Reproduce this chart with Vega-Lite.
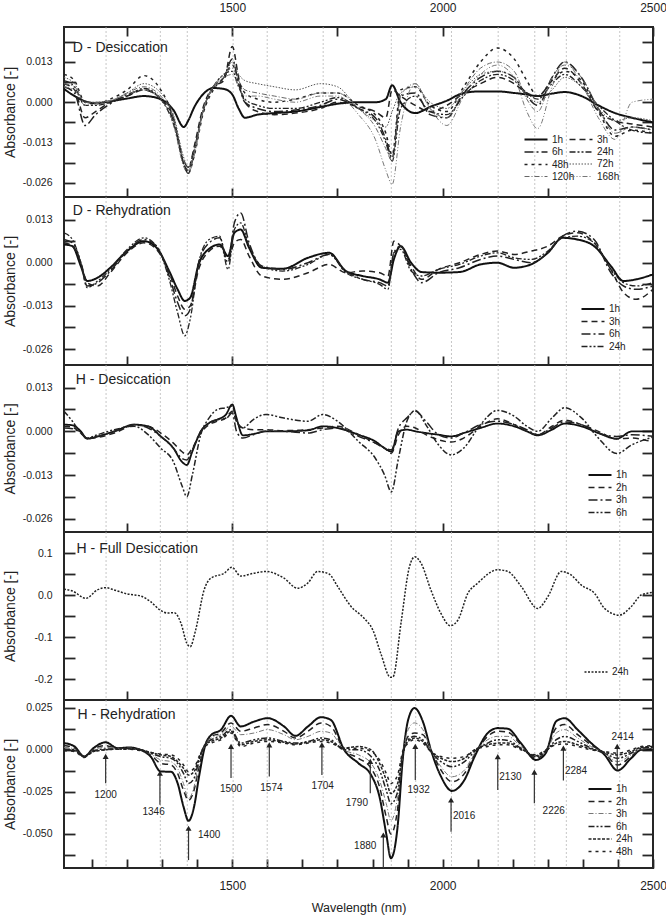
{
"$schema":"https://vega.github.io/schema/vega-lite/v6.json",
"background":"white",
"padding":{"left":2,"top":0,"right":0,"bottom":0},
"bounds":"flush",
"spacing":0,
"config":{
 "font":"Liberation Sans",
 "view":{"stroke":"#262626","strokeWidth":2},
 "axis":{"domain":false,"grid":false,"tickColor":"#262626","tickWidth":1.8,"labelColor":"#222","titleColor":"#222","labelFont":"Liberation Sans","titleFont":"Liberation Sans","titleFontWeight":"normal","labelFlush":false,"labelOverlap":false},
 "axisY":{"tickSize":-11,"labelPadding":23,"labelFontSize":10.5,"titleFontSize":14},
 "axisX":{"tickSize":-9,"labelPadding":21.5,"labelFontSize":12,"titleFontSize":12.5},
 "legend":{"labelFont":"Liberation Sans","labelFontSize":10,"labelColor":"#222","rowPadding":1.5,"columnPadding":2,"labelOffset":10,"padding":0},
 "line":{"interpolate":"monotone","clip":true}
},
"datasets":{
 "grid":[{"x":1200},{"x":1329},{"x":1393},{"x":1502},{"x":1583},{"x":1716},{"x":1878},{"x":1936},{"x":2021},{"x":2132},{"x":2219},{"x":2294},{"x":2421}],
 "p1":[
{"s":"1h","x":1100,"y":0.0043},{"s":"1h","x":1125,"y":0.002},{"s":"1h","x":1150,"y":0.0003},{"s":"1h","x":1175,"y":-0.0003},{"s":"1h","x":1210,"y":0.0003},{"s":"1h","x":1250,"y":0.0012},{"s":"1h","x":1290,"y":0.002},{"s":"1h","x":1330,"y":0.001},{"s":"1h","x":1360,"y":-0.0025},{"s":"1h","x":1385,"y":-0.008},{"s":"1h","x":1395,"y":-0.006},{"s":"1h","x":1410,"y":-0.0015},{"s":"1h","x":1430,"y":0.0025},{"s":"1h","x":1455,"y":0.0046},{"s":"1h","x":1480,"y":0.0043},{"s":"1h","x":1500,"y":0.0025},{"s":"1h","x":1515,"y":-0.002},{"s":"1h","x":1530,"y":-0.005},{"s":"1h","x":1560,"y":-0.004},{"s":"1h","x":1600,"y":-0.0035},{"s":"1h","x":1650,"y":-0.003},{"s":"1h","x":1710,"y":-0.0015},{"s":"1h","x":1750,"y":-0.0005},{"s":"1h","x":1800,"y":0},{"s":"1h","x":1840,"y":0},{"s":"1h","x":1865,"y":0.001},{"s":"1h","x":1880,"y":0.0055},{"s":"1h","x":1900,"y":0},{"s":"1h","x":1935,"y":-0.0035},{"s":"1h","x":1970,"y":-0.0015},{"s":"1h","x":2010,"y":0.0005},{"s":"1h","x":2050,"y":0.003},{"s":"1h","x":2090,"y":0.0035},{"s":"1h","x":2130,"y":0.0035},{"s":"1h","x":2170,"y":0.003},{"s":"1h","x":2200,"y":0.0025},{"s":"1h","x":2226,"y":0.002},{"s":"1h","x":2260,"y":0.0028},{"s":"1h","x":2290,"y":0.0033},{"s":"1h","x":2330,"y":0.002},{"s":"1h","x":2370,"y":-0.001},{"s":"1h","x":2410,"y":-0.0035},{"s":"1h","x":2450,"y":-0.005},{"s":"1h","x":2500,"y":-0.0065},
{"s":"3h","x":1100,"y":0.006},{"s":"3h","x":1125,"y":0.004},{"s":"3h","x":1150,"y":-0.005},{"s":"3h","x":1175,"y":-0.003},{"s":"3h","x":1210,"y":0},{"s":"3h","x":1250,"y":0.002},{"s":"3h","x":1290,"y":0.004},{"s":"3h","x":1330,"y":0.001},{"s":"3h","x":1360,"y":-0.005},{"s":"3h","x":1385,"y":-0.02},{"s":"3h","x":1395,"y":-0.022},{"s":"3h","x":1410,"y":-0.014},{"s":"3h","x":1430,"y":-0.002},{"s":"3h","x":1455,"y":0.005},{"s":"3h","x":1480,"y":0.007},{"s":"3h","x":1500,"y":0.018},{"s":"3h","x":1515,"y":0.008},{"s":"3h","x":1530,"y":0},{"s":"3h","x":1560,"y":-0.003},{"s":"3h","x":1600,"y":-0.004},{"s":"3h","x":1650,"y":-0.0035},{"s":"3h","x":1710,"y":-0.002},{"s":"3h","x":1750,"y":0},{"s":"3h","x":1800,"y":-0.0015},{"s":"3h","x":1840,"y":-0.003},{"s":"3h","x":1865,"y":-0.005},{"s":"3h","x":1880,"y":0.004},{"s":"3h","x":1900,"y":0.002},{"s":"3h","x":1935,"y":-0.001},{"s":"3h","x":1970,"y":-0.003},{"s":"3h","x":2010,"y":-0.001},{"s":"3h","x":2050,"y":0.003},{"s":"3h","x":2090,"y":0.006},{"s":"3h","x":2130,"y":0.008},{"s":"3h","x":2170,"y":0.006},{"s":"3h","x":2200,"y":0.003},{"s":"3h","x":2226,"y":0.002},{"s":"3h","x":2260,"y":0.007},{"s":"3h","x":2290,"y":0.011},{"s":"3h","x":2330,"y":0.006},{"s":"3h","x":2370,"y":-0.003},{"s":"3h","x":2410,"y":-0.006},{"s":"3h","x":2450,"y":-0.007},{"s":"3h","x":2500,"y":-0.008},
{"s":"6h","x":1100,"y":0.005},{"s":"6h","x":1125,"y":0.003},{"s":"6h","x":1150,"y":-0.0075},{"s":"6h","x":1175,"y":-0.004},{"s":"6h","x":1210,"y":-0.0005},{"s":"6h","x":1250,"y":0.0025},{"s":"6h","x":1290,"y":0.004},{"s":"6h","x":1330,"y":0.001},{"s":"6h","x":1360,"y":-0.006},{"s":"6h","x":1385,"y":-0.019},{"s":"6h","x":1395,"y":-0.021},{"s":"6h","x":1410,"y":-0.015},{"s":"6h","x":1430,"y":-0.003},{"s":"6h","x":1455,"y":0.005},{"s":"6h","x":1480,"y":0.008},{"s":"6h","x":1500,"y":0.014},{"s":"6h","x":1515,"y":0.006},{"s":"6h","x":1530,"y":0},{"s":"6h","x":1560,"y":-0.002},{"s":"6h","x":1600,"y":-0.003},{"s":"6h","x":1650,"y":-0.0025},{"s":"6h","x":1710,"y":-0.001},{"s":"6h","x":1750,"y":0.001},{"s":"6h","x":1800,"y":-0.002},{"s":"6h","x":1840,"y":-0.005},{"s":"6h","x":1865,"y":-0.012},{"s":"6h","x":1880,"y":-0.018},{"s":"6h","x":1900,"y":0.002},{"s":"6h","x":1935,"y":0.003},{"s":"6h","x":1970,"y":-0.004},{"s":"6h","x":2010,"y":-0.005},{"s":"6h","x":2050,"y":0.003},{"s":"6h","x":2090,"y":0.008},{"s":"6h","x":2130,"y":0.01},{"s":"6h","x":2170,"y":0.008},{"s":"6h","x":2200,"y":0.002},{"s":"6h","x":2226,"y":-0.001},{"s":"6h","x":2260,"y":0.008},{"s":"6h","x":2290,"y":0.013},{"s":"6h","x":2330,"y":0.008},{"s":"6h","x":2370,"y":-0.002},{"s":"6h","x":2410,"y":-0.009},{"s":"6h","x":2450,"y":-0.008},{"s":"6h","x":2500,"y":-0.009},
{"s":"24h","x":1100,"y":0.007},{"s":"24h","x":1125,"y":0.005},{"s":"24h","x":1150,"y":-0.001},{"s":"24h","x":1175,"y":-0.001},{"s":"24h","x":1210,"y":0},{"s":"24h","x":1250,"y":0.002},{"s":"24h","x":1290,"y":0.0045},{"s":"24h","x":1330,"y":0.001},{"s":"24h","x":1360,"y":-0.007},{"s":"24h","x":1385,"y":-0.02},{"s":"24h","x":1395,"y":-0.023},{"s":"24h","x":1410,"y":-0.016},{"s":"24h","x":1430,"y":-0.003},{"s":"24h","x":1455,"y":0.005},{"s":"24h","x":1480,"y":0.009},{"s":"24h","x":1500,"y":0.01},{"s":"24h","x":1515,"y":0.005},{"s":"24h","x":1530,"y":0.001},{"s":"24h","x":1560,"y":-0.001},{"s":"24h","x":1600,"y":-0.002},{"s":"24h","x":1650,"y":-0.002},{"s":"24h","x":1710,"y":0},{"s":"24h","x":1750,"y":0.0015},{"s":"24h","x":1800,"y":-0.002},{"s":"24h","x":1840,"y":-0.006},{"s":"24h","x":1865,"y":-0.013},{"s":"24h","x":1880,"y":-0.019},{"s":"24h","x":1900,"y":-0.002},{"s":"24h","x":1935,"y":0.002},{"s":"24h","x":1970,"y":-0.003},{"s":"24h","x":2010,"y":-0.004},{"s":"24h","x":2050,"y":0.002},{"s":"24h","x":2090,"y":0.007},{"s":"24h","x":2130,"y":0.009},{"s":"24h","x":2170,"y":0.007},{"s":"24h","x":2200,"y":0.003},{"s":"24h","x":2226,"y":0.001},{"s":"24h","x":2260,"y":0.006},{"s":"24h","x":2290,"y":0.009},{"s":"24h","x":2330,"y":0.005},{"s":"24h","x":2370,"y":-0.001},{"s":"24h","x":2410,"y":-0.006},{"s":"24h","x":2450,"y":-0.009},{"s":"24h","x":2500,"y":-0.01},
{"s":"48h","x":1100,"y":0.009},{"s":"48h","x":1125,"y":0.007},{"s":"48h","x":1150,"y":0},{"s":"48h","x":1175,"y":-0.0005},{"s":"48h","x":1210,"y":0.001},{"s":"48h","x":1250,"y":0.004},{"s":"48h","x":1290,"y":0.0086},{"s":"48h","x":1330,"y":0.004},{"s":"48h","x":1360,"y":-0.005},{"s":"48h","x":1385,"y":-0.02},{"s":"48h","x":1395,"y":-0.023},{"s":"48h","x":1410,"y":-0.017},{"s":"48h","x":1430,"y":-0.004},{"s":"48h","x":1455,"y":0.004},{"s":"48h","x":1480,"y":0.008},{"s":"48h","x":1500,"y":0.012},{"s":"48h","x":1515,"y":0.007},{"s":"48h","x":1530,"y":0.003},{"s":"48h","x":1560,"y":0.001},{"s":"48h","x":1600,"y":0},{"s":"48h","x":1650,"y":0.001},{"s":"48h","x":1710,"y":0.003},{"s":"48h","x":1750,"y":0.003},{"s":"48h","x":1800,"y":-0.001},{"s":"48h","x":1840,"y":-0.004},{"s":"48h","x":1865,"y":-0.01},{"s":"48h","x":1880,"y":-0.017},{"s":"48h","x":1900,"y":0.004},{"s":"48h","x":1935,"y":0.005},{"s":"48h","x":1970,"y":-0.001},{"s":"48h","x":2010,"y":-0.003},{"s":"48h","x":2050,"y":0.005},{"s":"48h","x":2090,"y":0.013},{"s":"48h","x":2130,"y":0.0175},{"s":"48h","x":2170,"y":0.014},{"s":"48h","x":2200,"y":0.007},{"s":"48h","x":2226,"y":0.002},{"s":"48h","x":2260,"y":0.007},{"s":"48h","x":2290,"y":0.01},{"s":"48h","x":2330,"y":0.007},{"s":"48h","x":2370,"y":-0.003},{"s":"48h","x":2410,"y":-0.011},{"s":"48h","x":2450,"y":-0.009},{"s":"48h","x":2500,"y":-0.01},
{"s":"72h","x":1100,"y":0.008},{"s":"72h","x":1125,"y":0.006},{"s":"72h","x":1150,"y":0},{"s":"72h","x":1175,"y":0},{"s":"72h","x":1210,"y":0.0005},{"s":"72h","x":1250,"y":0.003},{"s":"72h","x":1290,"y":0.006},{"s":"72h","x":1330,"y":0.003},{"s":"72h","x":1360,"y":-0.004},{"s":"72h","x":1385,"y":-0.018},{"s":"72h","x":1395,"y":-0.021},{"s":"72h","x":1410,"y":-0.015},{"s":"72h","x":1430,"y":-0.003},{"s":"72h","x":1455,"y":0.005},{"s":"72h","x":1480,"y":0.008},{"s":"72h","x":1500,"y":0.013},{"s":"72h","x":1515,"y":0.009},{"s":"72h","x":1530,"y":0.007},{"s":"72h","x":1560,"y":0.006},{"s":"72h","x":1600,"y":0.005},{"s":"72h","x":1650,"y":0.004},{"s":"72h","x":1710,"y":0.006},{"s":"72h","x":1750,"y":0.005},{"s":"72h","x":1800,"y":-0.002},{"s":"72h","x":1840,"y":-0.006},{"s":"72h","x":1865,"y":-0.008},{"s":"72h","x":1880,"y":-0.003},{"s":"72h","x":1900,"y":0.003},{"s":"72h","x":1935,"y":0.005},{"s":"72h","x":1970,"y":0},{"s":"72h","x":2010,"y":-0.002},{"s":"72h","x":2050,"y":0.004},{"s":"72h","x":2090,"y":0.009},{"s":"72h","x":2130,"y":0.01},{"s":"72h","x":2170,"y":0.008},{"s":"72h","x":2200,"y":0.002},{"s":"72h","x":2226,"y":0},{"s":"72h","x":2260,"y":0.004},{"s":"72h","x":2290,"y":0.008},{"s":"72h","x":2330,"y":0.005},{"s":"72h","x":2370,"y":-0.002},{"s":"72h","x":2410,"y":-0.006},{"s":"72h","x":2450,"y":-0.005},{"s":"72h","x":2500,"y":-0.006},
{"s":"120h","x":1100,"y":0.006},{"s":"120h","x":1125,"y":0.005},{"s":"120h","x":1150,"y":0},{"s":"120h","x":1175,"y":0},{"s":"120h","x":1210,"y":0.0005},{"s":"120h","x":1250,"y":0.003},{"s":"120h","x":1290,"y":0.005},{"s":"120h","x":1330,"y":0.002},{"s":"120h","x":1360,"y":-0.005},{"s":"120h","x":1385,"y":-0.019},{"s":"120h","x":1395,"y":-0.022},{"s":"120h","x":1410,"y":-0.016},{"s":"120h","x":1430,"y":-0.003},{"s":"120h","x":1455,"y":0.005},{"s":"120h","x":1480,"y":0.009},{"s":"120h","x":1500,"y":0.011},{"s":"120h","x":1515,"y":0.007},{"s":"120h","x":1530,"y":0.004},{"s":"120h","x":1560,"y":0.003},{"s":"120h","x":1600,"y":0.002},{"s":"120h","x":1650,"y":0.001},{"s":"120h","x":1710,"y":0.003},{"s":"120h","x":1750,"y":0.003},{"s":"120h","x":1800,"y":-0.002},{"s":"120h","x":1840,"y":-0.008},{"s":"120h","x":1865,"y":-0.015},{"s":"120h","x":1880,"y":-0.019},{"s":"120h","x":1900,"y":0.002},{"s":"120h","x":1935,"y":0.006},{"s":"120h","x":1970,"y":-0.002},{"s":"120h","x":2010,"y":-0.005},{"s":"120h","x":2050,"y":0.004},{"s":"120h","x":2090,"y":0.011},{"s":"120h","x":2130,"y":0.013},{"s":"120h","x":2170,"y":0.01},{"s":"120h","x":2200,"y":0.001},{"s":"120h","x":2226,"y":-0.003},{"s":"120h","x":2260,"y":0.008},{"s":"120h","x":2290,"y":0.012},{"s":"120h","x":2330,"y":0.008},{"s":"120h","x":2370,"y":-0.002},{"s":"120h","x":2410,"y":-0.01},{"s":"120h","x":2450,"y":-0.008},{"s":"120h","x":2500,"y":-0.009},
{"s":"168h","x":1100,"y":0.005},{"s":"168h","x":1125,"y":0.004},{"s":"168h","x":1150,"y":-0.001},{"s":"168h","x":1175,"y":-0.0005},{"s":"168h","x":1210,"y":0.0005},{"s":"168h","x":1250,"y":0.0025},{"s":"168h","x":1290,"y":0.004},{"s":"168h","x":1330,"y":0.001},{"s":"168h","x":1360,"y":-0.007},{"s":"168h","x":1385,"y":-0.021},{"s":"168h","x":1395,"y":-0.023},{"s":"168h","x":1410,"y":-0.017},{"s":"168h","x":1430,"y":-0.003},{"s":"168h","x":1455,"y":0.005},{"s":"168h","x":1480,"y":0.008},{"s":"168h","x":1500,"y":0.009},{"s":"168h","x":1515,"y":0.005},{"s":"168h","x":1530,"y":0.002},{"s":"168h","x":1560,"y":0.002},{"s":"168h","x":1600,"y":0.001},{"s":"168h","x":1650,"y":0},{"s":"168h","x":1710,"y":0.002},{"s":"168h","x":1750,"y":0.002},{"s":"168h","x":1800,"y":-0.004},{"s":"168h","x":1840,"y":-0.012},{"s":"168h","x":1865,"y":-0.022},{"s":"168h","x":1880,"y":-0.0265},{"s":"168h","x":1900,"y":-0.008},{"s":"168h","x":1935,"y":0.006},{"s":"168h","x":1970,"y":-0.002},{"s":"168h","x":2010,"y":-0.0075},{"s":"168h","x":2050,"y":0.002},{"s":"168h","x":2090,"y":0.009},{"s":"168h","x":2130,"y":0.012},{"s":"168h","x":2170,"y":0.008},{"s":"168h","x":2200,"y":-0.003},{"s":"168h","x":2226,"y":-0.0085},{"s":"168h","x":2260,"y":0.005},{"s":"168h","x":2290,"y":0.013},{"s":"168h","x":2330,"y":0.006},{"s":"168h","x":2370,"y":-0.005},{"s":"168h","x":2410,"y":-0.012},{"s":"168h","x":2450,"y":0},{"s":"168h","x":2500,"y":0.001}
 ],
 "p2":[
{"s":"1h","x":1100,"y":0.0055},{"s":"1h","x":1120,"y":0.005},{"s":"1h","x":1140,"y":-0.001},{"s":"1h","x":1155,"y":-0.0055},{"s":"1h","x":1180,"y":-0.0045},{"s":"1h","x":1210,"y":-0.0015},{"s":"1h","x":1250,"y":0.0035},{"s":"1h","x":1290,"y":0.0065},{"s":"1h","x":1320,"y":0.0045},{"s":"1h","x":1350,"y":-0.0025},{"s":"1h","x":1370,"y":-0.008},{"s":"1h","x":1387,"y":-0.0115},{"s":"1h","x":1400,"y":-0.0105},{"s":"1h","x":1420,"y":-0.0005},{"s":"1h","x":1445,"y":0.0042},{"s":"1h","x":1470,"y":0.0055},{"s":"1h","x":1490,"y":0.002},{"s":"1h","x":1505,"y":0.009},{"s":"1h","x":1520,"y":0.01},{"s":"1h","x":1540,"y":0.0045},{"s":"1h","x":1570,"y":-0.0015},{"s":"1h","x":1620,"y":-0.0018},{"s":"1h","x":1680,"y":0.0015},{"s":"1h","x":1730,"y":0.003},{"s":"1h","x":1770,"y":-0.0025},{"s":"1h","x":1810,"y":-0.004},{"s":"1h","x":1850,"y":-0.005},{"s":"1h","x":1870,"y":-0.006},{"s":"1h","x":1884,"y":0.001},{"s":"1h","x":1900,"y":0.005},{"s":"1h","x":1925,"y":0},{"s":"1h","x":1950,"y":-0.0028},{"s":"1h","x":1990,"y":-0.003},{"s":"1h","x":2040,"y":-0.0028},{"s":"1h","x":2090,"y":-0.0005},{"s":"1h","x":2130,"y":0},{"s":"1h","x":2170,"y":-0.0015},{"s":"1h","x":2210,"y":-0.0005},{"s":"1h","x":2250,"y":0.003},{"s":"1h","x":2285,"y":0.0075},{"s":"1h","x":2320,"y":0.007},{"s":"1h","x":2360,"y":0.005},{"s":"1h","x":2400,"y":-0.001},{"s":"1h","x":2430,"y":-0.0055},{"s":"1h","x":2460,"y":-0.005},{"s":"1h","x":2500,"y":-0.0035},
{"s":"3h","x":1100,"y":0.006},{"s":"3h","x":1120,"y":0.005},{"s":"3h","x":1140,"y":0},{"s":"3h","x":1155,"y":-0.006},{"s":"3h","x":1180,"y":-0.007},{"s":"3h","x":1210,"y":-0.003},{"s":"3h","x":1250,"y":0.003},{"s":"3h","x":1290,"y":0.006},{"s":"3h","x":1320,"y":0.004},{"s":"3h","x":1350,"y":-0.003},{"s":"3h","x":1370,"y":-0.01},{"s":"3h","x":1387,"y":-0.014},{"s":"3h","x":1400,"y":-0.013},{"s":"3h","x":1420,"y":-0.002},{"s":"3h","x":1445,"y":0.0035},{"s":"3h","x":1470,"y":0.005},{"s":"3h","x":1490,"y":0.001},{"s":"3h","x":1505,"y":0.006},{"s":"3h","x":1520,"y":0.007},{"s":"3h","x":1540,"y":0.002},{"s":"3h","x":1570,"y":-0.004},{"s":"3h","x":1620,"y":-0.005},{"s":"3h","x":1680,"y":-0.003},{"s":"3h","x":1730,"y":-0.0005},{"s":"3h","x":1770,"y":-0.003},{"s":"3h","x":1810,"y":-0.0025},{"s":"3h","x":1850,"y":-0.003},{"s":"3h","x":1870,"y":-0.004},{"s":"3h","x":1884,"y":0.0065},{"s":"3h","x":1900,"y":0.005},{"s":"3h","x":1925,"y":-0.001},{"s":"3h","x":1950,"y":-0.005},{"s":"3h","x":1990,"y":-0.002},{"s":"3h","x":2040,"y":0},{"s":"3h","x":2090,"y":0.0025},{"s":"3h","x":2130,"y":0.0035},{"s":"3h","x":2170,"y":0.0025},{"s":"3h","x":2210,"y":0.0035},{"s":"3h","x":2250,"y":0.005},{"s":"3h","x":2285,"y":0.008},{"s":"3h","x":2320,"y":0.009},{"s":"3h","x":2360,"y":0.006},{"s":"3h","x":2400,"y":-0.002},{"s":"3h","x":2430,"y":-0.009},{"s":"3h","x":2460,"y":-0.011},{"s":"3h","x":2500,"y":-0.008},
{"s":"6h","x":1100,"y":0.007},{"s":"6h","x":1120,"y":0.006},{"s":"6h","x":1140,"y":0},{"s":"6h","x":1155,"y":-0.007},{"s":"6h","x":1180,"y":-0.006},{"s":"6h","x":1210,"y":-0.0025},{"s":"6h","x":1250,"y":0.0035},{"s":"6h","x":1290,"y":0.007},{"s":"6h","x":1320,"y":0.005},{"s":"6h","x":1350,"y":-0.004},{"s":"6h","x":1370,"y":-0.012},{"s":"6h","x":1387,"y":-0.016},{"s":"6h","x":1400,"y":-0.014},{"s":"6h","x":1420,"y":0},{"s":"6h","x":1445,"y":0.006},{"s":"6h","x":1470,"y":0.0075},{"s":"6h","x":1490,"y":0},{"s":"6h","x":1505,"y":0.012},{"s":"6h","x":1520,"y":0.015},{"s":"6h","x":1540,"y":0.006},{"s":"6h","x":1570,"y":-0.001},{"s":"6h","x":1620,"y":-0.002},{"s":"6h","x":1680,"y":0},{"s":"6h","x":1730,"y":0.0025},{"s":"6h","x":1770,"y":-0.0025},{"s":"6h","x":1810,"y":-0.005},{"s":"6h","x":1850,"y":-0.006},{"s":"6h","x":1870,"y":-0.007},{"s":"6h","x":1884,"y":0.003},{"s":"6h","x":1900,"y":0.005},{"s":"6h","x":1925,"y":-0.002},{"s":"6h","x":1950,"y":-0.006},{"s":"6h","x":1990,"y":-0.003},{"s":"6h","x":2040,"y":-0.0015},{"s":"6h","x":2090,"y":0.001},{"s":"6h","x":2130,"y":0.002},{"s":"6h","x":2170,"y":0.001},{"s":"6h","x":2210,"y":0},{"s":"6h","x":2250,"y":0.003},{"s":"6h","x":2285,"y":0.008},{"s":"6h","x":2320,"y":0.0095},{"s":"6h","x":2360,"y":0.007},{"s":"6h","x":2400,"y":-0.003},{"s":"6h","x":2430,"y":-0.007},{"s":"6h","x":2460,"y":-0.008},{"s":"6h","x":2500,"y":-0.007},
{"s":"24h","x":1100,"y":0.009},{"s":"24h","x":1120,"y":0.007},{"s":"24h","x":1140,"y":0},{"s":"24h","x":1155,"y":-0.0075},{"s":"24h","x":1180,"y":-0.0055},{"s":"24h","x":1210,"y":-0.002},{"s":"24h","x":1250,"y":0.004},{"s":"24h","x":1290,"y":0.0075},{"s":"24h","x":1320,"y":0.005},{"s":"24h","x":1350,"y":-0.005},{"s":"24h","x":1370,"y":-0.015},{"s":"24h","x":1387,"y":-0.022},{"s":"24h","x":1400,"y":-0.017},{"s":"24h","x":1420,"y":0},{"s":"24h","x":1445,"y":0.007},{"s":"24h","x":1470,"y":0.008},{"s":"24h","x":1490,"y":-0.002},{"s":"24h","x":1505,"y":0.01},{"s":"24h","x":1520,"y":0.012},{"s":"24h","x":1540,"y":0.005},{"s":"24h","x":1570,"y":-0.001},{"s":"24h","x":1620,"y":-0.0025},{"s":"24h","x":1680,"y":-0.0005},{"s":"24h","x":1730,"y":0.0025},{"s":"24h","x":1770,"y":-0.003},{"s":"24h","x":1810,"y":-0.005},{"s":"24h","x":1850,"y":-0.0065},{"s":"24h","x":1870,"y":-0.008},{"s":"24h","x":1884,"y":0.003},{"s":"24h","x":1900,"y":0.004},{"s":"24h","x":1925,"y":-0.0025},{"s":"24h","x":1950,"y":-0.004},{"s":"24h","x":1990,"y":-0.002},{"s":"24h","x":2040,"y":-0.0005},{"s":"24h","x":2090,"y":0.002},{"s":"24h","x":2130,"y":0.003},{"s":"24h","x":2170,"y":0.0015},{"s":"24h","x":2210,"y":0.001},{"s":"24h","x":2250,"y":0.0035},{"s":"24h","x":2285,"y":0.0075},{"s":"24h","x":2320,"y":0.008},{"s":"24h","x":2360,"y":0.006},{"s":"24h","x":2400,"y":-0.002},{"s":"24h","x":2430,"y":-0.006},{"s":"24h","x":2460,"y":-0.007},{"s":"24h","x":2500,"y":-0.006}
 ],
 "p3":[
{"s":"1h","x":1100,"y":0.002},{"s":"1h","x":1120,"y":0.0018},{"s":"1h","x":1140,"y":0},{"s":"1h","x":1155,"y":-0.0022},{"s":"1h","x":1180,"y":-0.0015},{"s":"1h","x":1220,"y":0},{"s":"1h","x":1267,"y":0.002},{"s":"1h","x":1300,"y":0.0015},{"s":"1h","x":1330,"y":-0.0015},{"s":"1h","x":1360,"y":-0.005},{"s":"1h","x":1380,"y":-0.009},{"s":"1h","x":1392,"y":-0.01},{"s":"1h","x":1405,"y":-0.006},{"s":"1h","x":1425,"y":0},{"s":"1h","x":1445,"y":0.0025},{"s":"1h","x":1465,"y":0.0035},{"s":"1h","x":1485,"y":0.005},{"s":"1h","x":1500,"y":0.008},{"s":"1h","x":1510,"y":0.004},{"s":"1h","x":1525,"y":-0.0012},{"s":"1h","x":1550,"y":-0.0008},{"s":"1h","x":1580,"y":0},{"s":"1h","x":1620,"y":0},{"s":"1h","x":1680,"y":0.0003},{"s":"1h","x":1715,"y":0.0015},{"s":"1h","x":1750,"y":0.001},{"s":"1h","x":1800,"y":-0.001},{"s":"1h","x":1840,"y":-0.003},{"s":"1h","x":1862,"y":-0.005},{"s":"1h","x":1878,"y":-0.006},{"s":"1h","x":1895,"y":0},{"s":"1h","x":1915,"y":0.0005},{"s":"1h","x":1935,"y":0},{"s":"1h","x":1960,"y":-0.0005},{"s":"1h","x":1990,"y":-0.001},{"s":"1h","x":2020,"y":-0.0015},{"s":"1h","x":2050,"y":-0.0005},{"s":"1h","x":2090,"y":0.001},{"s":"1h","x":2130,"y":0.0023},{"s":"1h","x":2170,"y":0.0015},{"s":"1h","x":2200,"y":0},{"s":"1h","x":2226,"y":-0.0012},{"s":"1h","x":2260,"y":0.0005},{"s":"1h","x":2290,"y":0.0023},{"s":"1h","x":2330,"y":0.0015},{"s":"1h","x":2370,"y":-0.0005},{"s":"1h","x":2414,"y":-0.0022},{"s":"1h","x":2450,"y":0},{"s":"1h","x":2500,"y":0},
{"s":"2h","x":1100,"y":0.0015},{"s":"2h","x":1120,"y":0.0012},{"s":"2h","x":1140,"y":-0.0005},{"s":"2h","x":1155,"y":-0.0022},{"s":"2h","x":1180,"y":-0.0018},{"s":"2h","x":1220,"y":-0.0005},{"s":"2h","x":1267,"y":0.0018},{"s":"2h","x":1300,"y":0.0015},{"s":"2h","x":1330,"y":-0.0005},{"s":"2h","x":1360,"y":-0.0035},{"s":"2h","x":1380,"y":-0.006},{"s":"2h","x":1392,"y":-0.007},{"s":"2h","x":1405,"y":-0.005},{"s":"2h","x":1425,"y":-0.0005},{"s":"2h","x":1445,"y":0.002},{"s":"2h","x":1465,"y":0.003},{"s":"2h","x":1485,"y":0.004},{"s":"2h","x":1500,"y":0.006},{"s":"2h","x":1510,"y":0.003},{"s":"2h","x":1525,"y":0.001},{"s":"2h","x":1550,"y":0.0005},{"s":"2h","x":1580,"y":0.0005},{"s":"2h","x":1620,"y":0.0002},{"s":"2h","x":1680,"y":0.0005},{"s":"2h","x":1715,"y":0.001},{"s":"2h","x":1750,"y":0.0015},{"s":"2h","x":1800,"y":-0.001},{"s":"2h","x":1840,"y":-0.0035},{"s":"2h","x":1862,"y":-0.005},{"s":"2h","x":1878,"y":-0.0065},{"s":"2h","x":1895,"y":-0.001},{"s":"2h","x":1915,"y":0.0015},{"s":"2h","x":1935,"y":0.001},{"s":"2h","x":1960,"y":-0.001},{"s":"2h","x":1990,"y":-0.0025},{"s":"2h","x":2020,"y":-0.0032},{"s":"2h","x":2050,"y":-0.002},{"s":"2h","x":2090,"y":0.0015},{"s":"2h","x":2130,"y":0.0037},{"s":"2h","x":2170,"y":0.002},{"s":"2h","x":2200,"y":0},{"s":"2h","x":2226,"y":-0.001},{"s":"2h","x":2260,"y":0.0015},{"s":"2h","x":2290,"y":0.0033},{"s":"2h","x":2330,"y":0.002},{"s":"2h","x":2370,"y":0},{"s":"2h","x":2414,"y":-0.0022},{"s":"2h","x":2450,"y":-0.002},{"s":"2h","x":2500,"y":-0.0032},
{"s":"3h","x":1100,"y":0.001},{"s":"3h","x":1120,"y":0.0008},{"s":"3h","x":1140,"y":-0.0005},{"s":"3h","x":1155,"y":-0.002},{"s":"3h","x":1180,"y":-0.0015},{"s":"3h","x":1220,"y":0},{"s":"3h","x":1267,"y":0.002},{"s":"3h","x":1300,"y":0.001},{"s":"3h","x":1330,"y":-0.0015},{"s":"3h","x":1360,"y":-0.005},{"s":"3h","x":1380,"y":-0.008},{"s":"3h","x":1392,"y":-0.0085},{"s":"3h","x":1405,"y":-0.0055},{"s":"3h","x":1425,"y":0},{"s":"3h","x":1445,"y":0.0025},{"s":"3h","x":1465,"y":0.0035},{"s":"3h","x":1485,"y":0.0038},{"s":"3h","x":1500,"y":0.0055},{"s":"3h","x":1510,"y":0},{"s":"3h","x":1525,"y":-0.002},{"s":"3h","x":1550,"y":-0.001},{"s":"3h","x":1580,"y":0},{"s":"3h","x":1620,"y":0},{"s":"3h","x":1680,"y":-0.0005},{"s":"3h","x":1715,"y":0.0005},{"s":"3h","x":1750,"y":0.001},{"s":"3h","x":1800,"y":-0.0015},{"s":"3h","x":1840,"y":-0.0035},{"s":"3h","x":1862,"y":-0.005},{"s":"3h","x":1878,"y":-0.0055},{"s":"3h","x":1895,"y":0.001},{"s":"3h","x":1915,"y":0.004},{"s":"3h","x":1935,"y":0.006},{"s":"3h","x":1960,"y":0.003},{"s":"3h","x":1990,"y":-0.001},{"s":"3h","x":2020,"y":-0.002},{"s":"3h","x":2050,"y":-0.0005},{"s":"3h","x":2090,"y":0.002},{"s":"3h","x":2130,"y":0.003},{"s":"3h","x":2170,"y":0.002},{"s":"3h","x":2200,"y":0.0005},{"s":"3h","x":2226,"y":-0.001},{"s":"3h","x":2260,"y":0.001},{"s":"3h","x":2290,"y":0.0028},{"s":"3h","x":2330,"y":0.002},{"s":"3h","x":2370,"y":-0.0005},{"s":"3h","x":2414,"y":-0.0015},{"s":"3h","x":2450,"y":-0.001},{"s":"3h","x":2500,"y":-0.0015},
{"s":"6h","x":1100,"y":0.006},{"s":"6h","x":1120,"y":0.003},{"s":"6h","x":1140,"y":-0.0005},{"s":"6h","x":1155,"y":-0.002},{"s":"6h","x":1180,"y":-0.001},{"s":"6h","x":1220,"y":0.0005},{"s":"6h","x":1267,"y":0.0015},{"s":"6h","x":1300,"y":-0.001},{"s":"6h","x":1330,"y":-0.005},{"s":"6h","x":1360,"y":-0.009},{"s":"6h","x":1380,"y":-0.016},{"s":"6h","x":1392,"y":-0.0194},{"s":"6h","x":1405,"y":-0.013},{"s":"6h","x":1425,"y":-0.001},{"s":"6h","x":1445,"y":0.004},{"s":"6h","x":1465,"y":0.0065},{"s":"6h","x":1485,"y":0.007},{"s":"6h","x":1500,"y":0.0075},{"s":"6h","x":1510,"y":0.003},{"s":"6h","x":1525,"y":0.001},{"s":"6h","x":1550,"y":0.0035},{"s":"6h","x":1580,"y":0.005},{"s":"6h","x":1620,"y":0.004},{"s":"6h","x":1680,"y":0.003},{"s":"6h","x":1715,"y":0.005},{"s":"6h","x":1750,"y":0.003},{"s":"6h","x":1800,"y":-0.003},{"s":"6h","x":1840,"y":-0.008},{"s":"6h","x":1862,"y":-0.013},{"s":"6h","x":1878,"y":-0.018},{"s":"6h","x":1895,"y":-0.008},{"s":"6h","x":1915,"y":0.003},{"s":"6h","x":1935,"y":0.0062},{"s":"6h","x":1960,"y":0.002},{"s":"6h","x":1990,"y":-0.004},{"s":"6h","x":2020,"y":-0.007},{"s":"6h","x":2050,"y":-0.005},{"s":"6h","x":2090,"y":0.002},{"s":"6h","x":2130,"y":0.0062},{"s":"6h","x":2170,"y":0.0045},{"s":"6h","x":2200,"y":0.0015},{"s":"6h","x":2226,"y":0},{"s":"6h","x":2260,"y":0.004},{"s":"6h","x":2290,"y":0.007},{"s":"6h","x":2330,"y":0.004},{"s":"6h","x":2370,"y":-0.002},{"s":"6h","x":2414,"y":-0.0066},{"s":"6h","x":2450,"y":-0.004},{"s":"6h","x":2500,"y":-0.0017}
 ],
 "p4":[
{"s":"24h","x":1100,"y":0.014},{"s":"24h","x":1120,"y":0.0095},{"s":"24h","x":1152,"y":-0.008},{"s":"24h","x":1179,"y":0.012},{"s":"24h","x":1199,"y":0.0175},{"s":"24h","x":1219,"y":0.012},{"s":"24h","x":1251,"y":0.0024},{"s":"24h","x":1282,"y":-0.0024},{"s":"24h","x":1306,"y":-0.016},{"s":"24h","x":1330,"y":-0.037},{"s":"24h","x":1346,"y":-0.043},{"s":"24h","x":1362,"y":-0.042},{"s":"24h","x":1378,"y":-0.067},{"s":"24h","x":1392,"y":-0.115},{"s":"24h","x":1400,"y":-0.123},{"s":"24h","x":1413,"y":-0.083},{"s":"24h","x":1433,"y":0.012},{"s":"24h","x":1449,"y":0.04},{"s":"24h","x":1481,"y":0.052},{"s":"24h","x":1499,"y":0.066},{"s":"24h","x":1520,"y":0.045},{"s":"24h","x":1552,"y":0.052},{"s":"24h","x":1580,"y":0.056},{"s":"24h","x":1623,"y":0.04},{"s":"24h","x":1655,"y":0.016},{"s":"24h","x":1679,"y":0.028},{"s":"24h","x":1703,"y":0.056},{"s":"24h","x":1730,"y":0.05},{"s":"24h","x":1750,"y":0.021},{"s":"24h","x":1782,"y":-0.027},{"s":"24h","x":1814,"y":-0.056},{"s":"24h","x":1834,"y":-0.083},{"s":"24h","x":1853,"y":-0.139},{"s":"24h","x":1876,"y":-0.196},{"s":"24h","x":1882,"y":-0.195},{"s":"24h","x":1901,"y":-0.067},{"s":"24h","x":1921,"y":0.067},{"s":"24h","x":1934,"y":0.091},{"s":"24h","x":1949,"y":0.075},{"s":"24h","x":1972,"y":0.012},{"s":"24h","x":1996,"y":-0.044},{"s":"24h","x":2018,"y":-0.073},{"s":"24h","x":2036,"y":-0.06},{"s":"24h","x":2060,"y":0.004},{"s":"24h","x":2083,"y":0.028},{"s":"24h","x":2131,"y":0.06},{"s":"24h","x":2155,"y":0.056},{"s":"24h","x":2187,"y":0.02},{"s":"24h","x":2226,"y":-0.032},{"s":"24h","x":2250,"y":-0.004},{"s":"24h","x":2282,"y":0.056},{"s":"24h","x":2305,"y":0.048},{"s":"24h","x":2329,"y":0.024},{"s":"24h","x":2361,"y":0.004},{"s":"24h","x":2385,"y":-0.032},{"s":"24h","x":2420,"y":-0.048},{"s":"24h","x":2448,"y":-0.028},{"s":"24h","x":2472,"y":0},{"s":"24h","x":2500,"y":0.006}
 ],
 "p5":[
{"s":"1h","x":1100,"y":0.004},{"s":"1h","x":1125,"y":0.002},{"s":"1h","x":1148,"y":-0.004},{"s":"1h","x":1170,"y":0.001},{"s":"1h","x":1199,"y":0.0045},{"s":"1h","x":1227,"y":0.001},{"s":"1h","x":1255,"y":0.0014},{"s":"1h","x":1282,"y":0},{"s":"1h","x":1306,"y":-0.004},{"s":"1h","x":1330,"y":-0.0129},{"s":"1h","x":1354,"y":-0.013},{"s":"1h","x":1370,"y":-0.0198},{"s":"1h","x":1384,"y":-0.0337},{"s":"1h","x":1396,"y":-0.0422},{"s":"1h","x":1409,"y":-0.034},{"s":"1h","x":1421,"y":-0.0158},{"s":"1h","x":1435,"y":0.002},{"s":"1h","x":1450,"y":0.0089},{"s":"1h","x":1473,"y":0.0119},{"s":"1h","x":1497,"y":0.0202},{"s":"1h","x":1520,"y":0.0139},{"s":"1h","x":1552,"y":0.0168},{"s":"1h","x":1584,"y":0.0188},{"s":"1h","x":1623,"y":0.0139},{"s":"1h","x":1650,"y":0.0083},{"s":"1h","x":1680,"y":0.0139},{"s":"1h","x":1711,"y":0.0194},{"s":"1h","x":1734,"y":0.0178},{"s":"1h","x":1766,"y":0},{"s":"1h","x":1800,"y":-0.008},{"s":"1h","x":1830,"y":-0.015},{"s":"1h","x":1850,"y":-0.028},{"s":"1h","x":1866,"y":-0.05},{"s":"1h","x":1877,"y":-0.0644},{"s":"1h","x":1893,"y":-0.0455},{"s":"1h","x":1905,"y":-0.006},{"s":"1h","x":1918,"y":0.0178},{"s":"1h","x":1933,"y":0.0248},{"s":"1h","x":1953,"y":0.0168},{"s":"1h","x":1972,"y":0},{"s":"1h","x":1996,"y":-0.0158},{"s":"1h","x":2022,"y":-0.0244},{"s":"1h","x":2052,"y":-0.0178},{"s":"1h","x":2076,"y":-0.004},{"s":"1h","x":2107,"y":0.0099},{"s":"1h","x":2131,"y":0.0129},{"s":"1h","x":2155,"y":0.0125},{"s":"1h","x":2186,"y":0.004},{"s":"1h","x":2222,"y":-0.006},{"s":"1h","x":2245,"y":-0.002},{"s":"1h","x":2270,"y":0.017},{"s":"1h","x":2290,"y":0.0188},{"s":"1h","x":2321,"y":0.0119},{"s":"1h","x":2353,"y":0.004},{"s":"1h","x":2385,"y":-0.003},{"s":"1h","x":2416,"y":-0.0123},{"s":"1h","x":2448,"y":-0.005},{"s":"1h","x":2472,"y":0},{"s":"1h","x":2500,"y":0.0004},
{"s":"2h","x":1100,"y":0.0025},{"s":"2h","x":1125,"y":0.001},{"s":"2h","x":1148,"y":-0.004},{"s":"2h","x":1170,"y":0.0005},{"s":"2h","x":1199,"y":0.0025},{"s":"2h","x":1227,"y":0.001},{"s":"2h","x":1255,"y":0.001},{"s":"2h","x":1282,"y":0},{"s":"2h","x":1306,"y":-0.003},{"s":"2h","x":1330,"y":-0.008},{"s":"2h","x":1354,"y":-0.009},{"s":"2h","x":1370,"y":-0.014},{"s":"2h","x":1384,"y":-0.024},{"s":"2h","x":1396,"y":-0.03},{"s":"2h","x":1409,"y":-0.024},{"s":"2h","x":1421,"y":-0.01},{"s":"2h","x":1435,"y":0.003},{"s":"2h","x":1450,"y":0.008},{"s":"2h","x":1473,"y":0.01},{"s":"2h","x":1497,"y":0.016},{"s":"2h","x":1520,"y":0.011},{"s":"2h","x":1552,"y":0.013},{"s":"2h","x":1584,"y":0.015},{"s":"2h","x":1623,"y":0.011},{"s":"2h","x":1650,"y":0.007},{"s":"2h","x":1680,"y":0.011},{"s":"2h","x":1711,"y":0.016},{"s":"2h","x":1734,"y":0.014},{"s":"2h","x":1766,"y":0},{"s":"2h","x":1800,"y":-0.005},{"s":"2h","x":1830,"y":-0.011},{"s":"2h","x":1850,"y":-0.022},{"s":"2h","x":1866,"y":-0.04},{"s":"2h","x":1877,"y":-0.05},{"s":"2h","x":1893,"y":-0.035},{"s":"2h","x":1905,"y":-0.005},{"s":"2h","x":1918,"y":0.008},{"s":"2h","x":1933,"y":0.01},{"s":"2h","x":1953,"y":0.009},{"s":"2h","x":1972,"y":0},{"s":"2h","x":1996,"y":-0.012},{"s":"2h","x":2022,"y":-0.019},{"s":"2h","x":2052,"y":-0.014},{"s":"2h","x":2076,"y":-0.003},{"s":"2h","x":2107,"y":0.008},{"s":"2h","x":2131,"y":0.011},{"s":"2h","x":2155,"y":0.0105},{"s":"2h","x":2186,"y":0.003},{"s":"2h","x":2222,"y":-0.005},{"s":"2h","x":2245,"y":-0.001},{"s":"2h","x":2270,"y":0.013},{"s":"2h","x":2290,"y":0.015},{"s":"2h","x":2321,"y":0.009},{"s":"2h","x":2353,"y":0.003},{"s":"2h","x":2385,"y":-0.002},{"s":"2h","x":2416,"y":-0.009},{"s":"2h","x":2448,"y":-0.004},{"s":"2h","x":2472,"y":0},{"s":"2h","x":2500,"y":0.0005},
{"s":"3h","x":1100,"y":0.0015},{"s":"3h","x":1125,"y":0.0005},{"s":"3h","x":1148,"y":-0.0045},{"s":"3h","x":1170,"y":0},{"s":"3h","x":1199,"y":0.0015},{"s":"3h","x":1227,"y":0.0008},{"s":"3h","x":1255,"y":0.001},{"s":"3h","x":1282,"y":0},{"s":"3h","x":1306,"y":-0.0025},{"s":"3h","x":1330,"y":-0.006},{"s":"3h","x":1354,"y":-0.007},{"s":"3h","x":1370,"y":-0.011},{"s":"3h","x":1384,"y":-0.02},{"s":"3h","x":1396,"y":-0.029},{"s":"3h","x":1409,"y":-0.022},{"s":"3h","x":1421,"y":-0.008},{"s":"3h","x":1435,"y":0.003},{"s":"3h","x":1450,"y":0.007},{"s":"3h","x":1473,"y":0.009},{"s":"3h","x":1497,"y":0.014},{"s":"3h","x":1520,"y":0.009},{"s":"3h","x":1552,"y":0.01},{"s":"3h","x":1584,"y":0.012},{"s":"3h","x":1623,"y":0.009},{"s":"3h","x":1650,"y":0.006},{"s":"3h","x":1680,"y":0.008},{"s":"3h","x":1711,"y":0.011},{"s":"3h","x":1734,"y":0.01},{"s":"3h","x":1766,"y":0},{"s":"3h","x":1800,"y":-0.003},{"s":"3h","x":1830,"y":-0.008},{"s":"3h","x":1850,"y":-0.018},{"s":"3h","x":1866,"y":-0.032},{"s":"3h","x":1877,"y":-0.042},{"s":"3h","x":1893,"y":-0.028},{"s":"3h","x":1905,"y":-0.003},{"s":"3h","x":1918,"y":0.012},{"s":"3h","x":1933,"y":0.016},{"s":"3h","x":1953,"y":0.012},{"s":"3h","x":1972,"y":0},{"s":"3h","x":1996,"y":-0.01},{"s":"3h","x":2022,"y":-0.016},{"s":"3h","x":2052,"y":-0.012},{"s":"3h","x":2076,"y":-0.002},{"s":"3h","x":2107,"y":0.006},{"s":"3h","x":2131,"y":0.008},{"s":"3h","x":2155,"y":0.008},{"s":"3h","x":2186,"y":0.002},{"s":"3h","x":2222,"y":-0.004},{"s":"3h","x":2245,"y":-0.001},{"s":"3h","x":2270,"y":0.01},{"s":"3h","x":2290,"y":0.012},{"s":"3h","x":2321,"y":0.007},{"s":"3h","x":2353,"y":0.002},{"s":"3h","x":2385,"y":-0.002},{"s":"3h","x":2416,"y":-0.007},{"s":"3h","x":2448,"y":-0.003},{"s":"3h","x":2472,"y":0.0005},{"s":"3h","x":2500,"y":0.001},
{"s":"6h","x":1100,"y":0.0005},{"s":"6h","x":1125,"y":0},{"s":"6h","x":1148,"y":-0.004},{"s":"6h","x":1170,"y":-0.0005},{"s":"6h","x":1199,"y":0.0005},{"s":"6h","x":1227,"y":0.0005},{"s":"6h","x":1255,"y":0.0008},{"s":"6h","x":1282,"y":0},{"s":"6h","x":1306,"y":-0.002},{"s":"6h","x":1330,"y":-0.004},{"s":"6h","x":1354,"y":-0.005},{"s":"6h","x":1370,"y":-0.008},{"s":"6h","x":1384,"y":-0.014},{"s":"6h","x":1396,"y":-0.02},{"s":"6h","x":1409,"y":-0.017},{"s":"6h","x":1421,"y":-0.006},{"s":"6h","x":1435,"y":0.003},{"s":"6h","x":1450,"y":0.006},{"s":"6h","x":1473,"y":0.008},{"s":"6h","x":1497,"y":0.012},{"s":"6h","x":1520,"y":0.004},{"s":"6h","x":1552,"y":0.006},{"s":"6h","x":1584,"y":0.007},{"s":"6h","x":1623,"y":0.005},{"s":"6h","x":1650,"y":0.004},{"s":"6h","x":1680,"y":0.005},{"s":"6h","x":1711,"y":0.007},{"s":"6h","x":1734,"y":0.006},{"s":"6h","x":1766,"y":0},{"s":"6h","x":1800,"y":0},{"s":"6h","x":1830,"y":-0.004},{"s":"6h","x":1850,"y":-0.012},{"s":"6h","x":1866,"y":-0.024},{"s":"6h","x":1877,"y":-0.032},{"s":"6h","x":1893,"y":-0.025},{"s":"6h","x":1905,"y":-0.003},{"s":"6h","x":1918,"y":0.006},{"s":"6h","x":1933,"y":0.008},{"s":"6h","x":1953,"y":0.006},{"s":"6h","x":1972,"y":-0.001},{"s":"6h","x":1996,"y":-0.007},{"s":"6h","x":2022,"y":-0.01},{"s":"6h","x":2052,"y":-0.007},{"s":"6h","x":2076,"y":-0.001},{"s":"6h","x":2107,"y":0.004},{"s":"6h","x":2131,"y":0.006},{"s":"6h","x":2155,"y":0.0055},{"s":"6h","x":2186,"y":0.001},{"s":"6h","x":2222,"y":-0.004},{"s":"6h","x":2245,"y":-0.001},{"s":"6h","x":2270,"y":0.006},{"s":"6h","x":2290,"y":0.008},{"s":"6h","x":2321,"y":0.005},{"s":"6h","x":2353,"y":0.001},{"s":"6h","x":2385,"y":-0.002},{"s":"6h","x":2416,"y":-0.005},{"s":"6h","x":2448,"y":-0.002},{"s":"6h","x":2472,"y":0.001},{"s":"6h","x":2500,"y":0.0015},
{"s":"24h","x":1100,"y":0},{"s":"24h","x":1125,"y":-0.0005},{"s":"24h","x":1148,"y":-0.004},{"s":"24h","x":1170,"y":-0.001},{"s":"24h","x":1199,"y":0},{"s":"24h","x":1227,"y":0.0005},{"s":"24h","x":1255,"y":0.0005},{"s":"24h","x":1282,"y":0},{"s":"24h","x":1306,"y":-0.0015},{"s":"24h","x":1330,"y":-0.003},{"s":"24h","x":1354,"y":-0.004},{"s":"24h","x":1370,"y":-0.007},{"s":"24h","x":1384,"y":-0.011},{"s":"24h","x":1396,"y":-0.015},{"s":"24h","x":1409,"y":-0.013},{"s":"24h","x":1421,"y":-0.005},{"s":"24h","x":1435,"y":0.003},{"s":"24h","x":1450,"y":0.005},{"s":"24h","x":1473,"y":0.007},{"s":"24h","x":1497,"y":0.011},{"s":"24h","x":1520,"y":0.003},{"s":"24h","x":1552,"y":0.005},{"s":"24h","x":1584,"y":0.006},{"s":"24h","x":1623,"y":0.0045},{"s":"24h","x":1650,"y":0.0035},{"s":"24h","x":1680,"y":0.0045},{"s":"24h","x":1711,"y":0.006},{"s":"24h","x":1734,"y":0.005},{"s":"24h","x":1766,"y":0.001},{"s":"24h","x":1800,"y":0.002},{"s":"24h","x":1830,"y":0},{"s":"24h","x":1850,"y":-0.008},{"s":"24h","x":1866,"y":-0.018},{"s":"24h","x":1877,"y":-0.026},{"s":"24h","x":1893,"y":-0.02},{"s":"24h","x":1905,"y":-0.002},{"s":"24h","x":1918,"y":0.005},{"s":"24h","x":1933,"y":0.007},{"s":"24h","x":1953,"y":0.005},{"s":"24h","x":1972,"y":-0.001},{"s":"24h","x":1996,"y":-0.005},{"s":"24h","x":2022,"y":-0.007},{"s":"24h","x":2052,"y":-0.005},{"s":"24h","x":2076,"y":0},{"s":"24h","x":2107,"y":0.003},{"s":"24h","x":2131,"y":0.004},{"s":"24h","x":2155,"y":0.004},{"s":"24h","x":2186,"y":0.0005},{"s":"24h","x":2222,"y":-0.0035},{"s":"24h","x":2245,"y":-0.0005},{"s":"24h","x":2270,"y":0.004},{"s":"24h","x":2290,"y":0.005},{"s":"24h","x":2321,"y":0.003},{"s":"24h","x":2353,"y":0.0005},{"s":"24h","x":2385,"y":-0.0015},{"s":"24h","x":2416,"y":-0.003},{"s":"24h","x":2448,"y":-0.001},{"s":"24h","x":2472,"y":0.0015},{"s":"24h","x":2500,"y":0.002},
{"s":"48h","x":1100,"y":-0.0005},{"s":"48h","x":1125,"y":-0.001},{"s":"48h","x":1148,"y":-0.0045},{"s":"48h","x":1170,"y":-0.001},{"s":"48h","x":1199,"y":0},{"s":"48h","x":1227,"y":0.0003},{"s":"48h","x":1255,"y":0.0003},{"s":"48h","x":1282,"y":-0.0005},{"s":"48h","x":1306,"y":-0.0015},{"s":"48h","x":1330,"y":-0.0025},{"s":"48h","x":1354,"y":-0.003},{"s":"48h","x":1370,"y":-0.005},{"s":"48h","x":1384,"y":-0.009},{"s":"48h","x":1396,"y":-0.013},{"s":"48h","x":1409,"y":-0.011},{"s":"48h","x":1421,"y":-0.004},{"s":"48h","x":1435,"y":0.002},{"s":"48h","x":1450,"y":0.004},{"s":"48h","x":1473,"y":0.006},{"s":"48h","x":1497,"y":0.01},{"s":"48h","x":1520,"y":0.002},{"s":"48h","x":1552,"y":0.004},{"s":"48h","x":1584,"y":0.005},{"s":"48h","x":1623,"y":0.004},{"s":"48h","x":1650,"y":0.003},{"s":"48h","x":1680,"y":0.004},{"s":"48h","x":1711,"y":0.005},{"s":"48h","x":1734,"y":0.004},{"s":"48h","x":1766,"y":0.001},{"s":"48h","x":1800,"y":0.001},{"s":"48h","x":1830,"y":-0.001},{"s":"48h","x":1850,"y":-0.006},{"s":"48h","x":1866,"y":-0.014},{"s":"48h","x":1877,"y":-0.02},{"s":"48h","x":1893,"y":-0.015},{"s":"48h","x":1905,"y":-0.001},{"s":"48h","x":1918,"y":0.004},{"s":"48h","x":1933,"y":0.006},{"s":"48h","x":1953,"y":0.004},{"s":"48h","x":1972,"y":-0.001},{"s":"48h","x":1996,"y":-0.004},{"s":"48h","x":2022,"y":-0.005},{"s":"48h","x":2052,"y":-0.004},{"s":"48h","x":2076,"y":0},{"s":"48h","x":2107,"y":0.002},{"s":"48h","x":2131,"y":0.003},{"s":"48h","x":2155,"y":0.003},{"s":"48h","x":2186,"y":0},{"s":"48h","x":2222,"y":-0.003},{"s":"48h","x":2245,"y":0},{"s":"48h","x":2270,"y":0.003},{"s":"48h","x":2290,"y":0.0035},{"s":"48h","x":2321,"y":0.002},{"s":"48h","x":2353,"y":0},{"s":"48h","x":2385,"y":-0.001},{"s":"48h","x":2416,"y":-0.002},{"s":"48h","x":2448,"y":0},{"s":"48h","x":2472,"y":0.002},{"s":"48h","x":2500,"y":0.0025}
 ],
 "arrows":[
{"x":1199,"tip":-0.0039,"base":-0.0198},{"x":1328,"tip":-0.0139,"base":-0.0327},{"x":1396,"tip":-0.0466,"base":-0.0655},{"x":1497,"tip":0.002,"base":-0.0168},{"x":1588,"tip":0.003,"base":-0.0158},{"x":1713,"tip":0.003,"base":-0.0149},{"x":1828,"tip":-0.0069,"base":-0.0258},{"x":1859,"tip":-0.0506,"base":-0.071},{"x":1935,"tip":0.002,"base":-0.0179},{"x":2020,"tip":-0.0298,"base":-0.0486},{"x":2131,"tip":-0.004,"base":-0.0238},{"x":2218,"tip":-0.0133,"base":-0.0317},{"x":2287,"tip":0.001,"base":-0.0182},{"x":2415,"tip":0.002,"base":-0.0119}
 ],
 "alabels":[
{"t":"1200","x":1199,"y":-0.0271},{"t":"1346","x":1313,"y":-0.0367},{"t":"1400","x":1445,"y":-0.0506},{"t":"1500","x":1497,"y":-0.0234},{"t":"1574","x":1593,"y":-0.0224},{"t":"1704","x":1715,"y":-0.0214},{"t":"1790","x":1796,"y":-0.0317},{"t":"1880","x":1816,"y":-0.0571},{"t":"1932","x":1943,"y":-0.0238},{"t":"2016","x":2051,"y":-0.0393},{"t":"2130","x":2161,"y":-0.0164},{"t":"2226","x":2264,"y":-0.0361},{"t":"2284","x":2317,"y":-0.0125},{"t":"2414","x":2428,"y":0.0074}
 ]
},
"vconcat":[
 {
  "width":589,"height":170,
  "layer":[
   {"data":{"name":"grid"},"mark":{"type":"rule","stroke":"#b8b8b8","strokeWidth":0.8,"strokeDash":[2,2]},
    "encoding":{"x":{"field":"x","type":"quantitative","scale":{"domain":[1100,2500],"nice":false,"zero":false},"axis":null}}},
   {"data":{"name":"p1"},"mark":{"type":"line"},
    "encoding":{
     "x":{"field":"x","type":"quantitative","scale":{"domain":[1100,2500],"nice":false,"zero":false},"axis":{"orient":"bottom","values":[1250,1500,1750,2000,2250],"labels":false,"title":null}},
     "y":{"field":"y","type":"quantitative","scale":{"domain":[-0.0306,0.0243],"nice":false,"zero":false},"axis":{"orient":"left","values":[0.0195,0.013,0.0065,0,-0.0065,-0.013,-0.0195,-0.026],"labelExpr":"(datum.value == 0.013 || datum.value == 0 || datum.value == -0.013 || datum.value == -0.026) ? (datum.value < 0 ? '-' + format(-datum.value, '.3f') : format(datum.value, '.3f')) : ''","title":"Absorbance [-]","titleX":-47}},
     "strokeDash":{"field":"s","type":"nominal","scale":{"domain":["1h","3h","6h","24h","48h","72h","120h","168h"],"range":[[1,0],[6,4],[9,3,2,3],[6,2,2,2,2,2],[3,4],[1.5,1.5],[5,2,1,2],[5,2,1,2,1,2]]},"legend":{"title":null,"orient":"none","legendX":466,"legendY":106.5,"columns":2,"direction":"horizontal","columnPadding":-9,"symbolType":"M-2.3,0H2.3","symbolSize":100}},
     "strokeWidth":{"field":"s","type":"nominal","scale":{"type":"ordinal","domain":["1h","3h","6h","24h","48h","72h","120h","168h"],"range":[2,1.5,1.5,1.3,1.5,1,1,1]},"legend":{"title":null,"orient":"none","legendX":466,"legendY":106.5,"columns":2,"direction":"horizontal","columnPadding":-9,"symbolType":"M-2.3,0H2.3","symbolSize":100}},
     "color":{"field":"s","type":"nominal","scale":{"domain":["1h","3h","6h","24h","48h","72h","120h","168h"],"range":["#111","#222","#222","#222","#222","#555","#666","#777"]},"legend":{"title":null,"orient":"none","legendX":466,"legendY":106.5,"columns":2,"direction":"horizontal","columnPadding":-9,"symbolType":"M-2.3,0H2.3","symbolSize":100}}
    }},
   {"data":{"values":[{"t":"D - Desiccation","x":1121,"y":0.0162}]},"mark":{"type":"text","align":"left","baseline":"alphabetic","fontSize":14,"color":"#222"},
    "encoding":{
     "x":{"field":"x","type":"quantitative","scale":{"domain":[1100,2500],"nice":false,"zero":false},"axis":{"orient":"top","values":[1250,1500,1750,2000,2250,2500],"format":"d","labelExpr":"datum.value % 500 === 0 ? datum.label : ''","title":null}},
     "y":{"field":"y","type":"quantitative","scale":{"domain":[-0.0306,0.0243],"nice":false,"zero":false},"axis":{"orient":"right","values":[0.0195,0.013,0.0065,0,-0.0065,-0.013,-0.0195,-0.026],"labels":false,"title":null}},
     "text":{"field":"t"}}}
  ],
  "resolve":{"axis":{"x":"independent","y":"independent"}}
 },
 {
  "width":589,"height":168,
  "layer":[
   {"data":{"name":"grid"},"mark":{"type":"rule","stroke":"#b8b8b8","strokeWidth":0.8,"strokeDash":[2,2]},
    "encoding":{"x":{"field":"x","type":"quantitative","scale":{"domain":[1100,2500],"nice":false,"zero":false},"axis":null}}},
   {"data":{"name":"p2"},"mark":{"type":"line"},
    "encoding":{
     "x":{"field":"x","type":"quantitative","scale":{"domain":[1100,2500],"nice":false,"zero":false},"axis":{"orient":"bottom","values":[1250,1500,1750,2000,2250],"labels":false,"title":null}},
     "y":{"field":"y","type":"quantitative","scale":{"domain":[-0.0308,0.0198],"nice":false,"zero":false},"axis":{"orient":"left","values":[0.013,0.0065,0,-0.0065,-0.013,-0.0195,-0.026],"labelExpr":"(datum.value == 0.013 || datum.value == 0 || datum.value == -0.013 || datum.value == -0.026) ? (datum.value < 0 ? '-' + format(-datum.value, '.3f') : format(datum.value, '.3f')) : ''","title":"Absorbance [-]","titleX":-47}},
     "strokeDash":{"field":"s","type":"nominal","scale":{"domain":["1h","3h","6h","24h"],"range":[[1,0],[6,4],[9,3,2,3],[6,2,2,2,2,2]]},"legend":{"title":null,"orient":"none","legendX":523,"legendY":106,"symbolType":"M-2.3,0H2.3","symbolSize":100}},
     "strokeWidth":{"field":"s","type":"nominal","scale":{"type":"ordinal","domain":["1h","3h","6h","24h"],"range":[2,1.5,1.5,1.3]},"legend":{"title":null,"orient":"none","legendX":523,"legendY":106,"symbolType":"M-2.3,0H2.3","symbolSize":100}},
     "color":{"field":"s","type":"nominal","scale":{"domain":["1h","3h","6h","24h"],"range":["#111","#222","#222","#222"]},"legend":{"title":null,"orient":"none","legendX":523,"legendY":106,"symbolType":"M-2.3,0H2.3","symbolSize":100}}
    }},
   {"data":{"values":[{"t":"D - Rehydration","x":1121,"y":0.01425}]},"mark":{"type":"text","align":"left","baseline":"alphabetic","fontSize":14,"color":"#222"},
    "encoding":{
     "x":{"field":"x","type":"quantitative","scale":{"domain":[1100,2500],"nice":false,"zero":false},"axis":null},
     "y":{"field":"y","type":"quantitative","scale":{"domain":[-0.0308,0.0198],"nice":false,"zero":false},"axis":{"orient":"right","values":[0.013,0.0065,0,-0.0065,-0.013,-0.0195,-0.026],"labels":false,"title":null}},
     "text":{"field":"t"}}}
  ],
  "resolve":{"axis":{"x":"independent","y":"independent"}}
 },
 {
  "width":589,"height":167,
  "layer":[
   {"data":{"name":"grid"},"mark":{"type":"rule","stroke":"#b8b8b8","strokeWidth":0.8,"strokeDash":[2,2]},
    "encoding":{"x":{"field":"x","type":"quantitative","scale":{"domain":[1100,2500],"nice":false,"zero":false},"axis":null}}},
   {"data":{"name":"p3"},"mark":{"type":"line"},
    "encoding":{
     "x":{"field":"x","type":"quantitative","scale":{"domain":[1100,2500],"nice":false,"zero":false},"axis":{"orient":"bottom","values":[1250,1500,1750,2000,2250],"labels":false,"title":null}},
     "y":{"field":"y","type":"quantitative","scale":{"domain":[-0.0299,0.0197],"nice":false,"zero":false},"axis":{"orient":"left","values":[0.013,0.0065,0,-0.0065,-0.013,-0.0195,-0.026],"labelExpr":"(datum.value == 0.013 || datum.value == 0 || datum.value == -0.013 || datum.value == -0.026) ? (datum.value < 0 ? '-' + format(-datum.value, '.3f') : format(datum.value, '.3f')) : ''","title":"Absorbance [-]","titleX":-47}},
     "strokeDash":{"field":"s","type":"nominal","scale":{"domain":["1h","2h","3h","6h"],"range":[[1,0],[6,4],[9,3,2,3],[6,2,2,2,2,2]]},"legend":{"title":null,"orient":"none","legendX":530,"legendY":104,"symbolType":"M-2.3,0H2.3","symbolSize":100}},
     "strokeWidth":{"field":"s","type":"nominal","scale":{"type":"ordinal","domain":["1h","2h","3h","6h"],"range":[1.8,1.5,1.5,1.5]},"legend":{"title":null,"orient":"none","legendX":530,"legendY":104,"symbolType":"M-2.3,0H2.3","symbolSize":100}},
     "color":{"field":"s","type":"nominal","scale":{"domain":["1h","2h","3h","6h"],"range":["#111","#222","#222","#222"]},"legend":{"title":null,"orient":"none","legendX":530,"legendY":104,"symbolType":"M-2.3,0H2.3","symbolSize":100}}
    }},
   {"data":{"values":[{"t":"H - Desiccation","x":1128,"y":0.0141}]},"mark":{"type":"text","align":"left","baseline":"alphabetic","fontSize":14,"color":"#222"},
    "encoding":{
     "x":{"field":"x","type":"quantitative","scale":{"domain":[1100,2500],"nice":false,"zero":false},"axis":null},
     "y":{"field":"y","type":"quantitative","scale":{"domain":[-0.0299,0.0197],"nice":false,"zero":false},"axis":{"orient":"right","values":[0.013,0.0065,0,-0.0065,-0.013,-0.0195,-0.026],"labels":false,"title":null}},
     "text":{"field":"t"}}}
  ],
  "resolve":{"axis":{"x":"independent","y":"independent"}}
 },
 {
  "width":589,"height":168,
  "layer":[
   {"data":{"name":"grid"},"mark":{"type":"rule","stroke":"#b8b8b8","strokeWidth":0.8,"strokeDash":[2,2]},
    "encoding":{"x":{"field":"x","type":"quantitative","scale":{"domain":[1100,2500],"nice":false,"zero":false},"axis":null}}},
   {"data":{"name":"p4"},"mark":{"type":"line"},
    "encoding":{
     "x":{"field":"x","type":"quantitative","scale":{"domain":[1100,2500],"nice":false,"zero":false},"axis":{"orient":"bottom","values":[1250,1500,1750,2000,2250],"labels":false,"title":null}},
     "y":{"field":"y","type":"quantitative","scale":{"domain":[-0.25,0.15],"nice":false,"zero":false},"axis":{"orient":"left","values":[0.1,0.05,0,-0.05,-0.1,-0.15,-0.2],"labelExpr":"(datum.value == 0.1 || datum.value == 0 || datum.value == -0.1 || datum.value == -0.2) ? (datum.value < 0 ? '-' + format(-datum.value, '.1f') : format(datum.value, '.1f')) : ''","title":"Absorbance [-]","titleX":-47}},
     "strokeDash":{"field":"s","type":"nominal","scale":{"domain":["24h"],"range":[[2,1.5]]},"legend":{"title":null,"orient":"none","legendX":526,"legendY":134,"symbolType":"M-2.3,0H2.3","symbolSize":100}},
     "strokeWidth":{"field":"s","type":"nominal","scale":{"type":"ordinal","domain":["24h"],"range":[1.5]},"legend":{"title":null,"orient":"none","legendX":526,"legendY":134,"symbolType":"M-2.3,0H2.3","symbolSize":100}},
     "color":{"field":"s","type":"nominal","scale":{"domain":["24h"],"range":["#222"]},"legend":{"title":null,"orient":"none","legendX":526,"legendY":134,"symbolType":"M-2.3,0H2.3","symbolSize":100}}
    }},
   {"data":{"values":[{"t":"H - Full Desiccation","x":1130,"y":0.0993}]},"mark":{"type":"text","align":"left","baseline":"alphabetic","fontSize":14,"color":"#222"},
    "encoding":{
     "x":{"field":"x","type":"quantitative","scale":{"domain":[1100,2500],"nice":false,"zero":false},"axis":null},
     "y":{"field":"y","type":"quantitative","scale":{"domain":[-0.25,0.15],"nice":false,"zero":false},"axis":{"orient":"right","values":[0.1,0.05,0,-0.05,-0.1,-0.15,-0.2],"labels":false,"title":null}},
     "text":{"field":"t"}}}
  ],
  "resolve":{"axis":{"x":"independent","y":"independent"}}
 },
 {
  "width":589,"height":168,
  "layer":[
   {"data":{"name":"grid"},"mark":{"type":"rule","stroke":"#b8b8b8","strokeWidth":0.8,"strokeDash":[2,2]},
    "encoding":{"x":{"field":"x","type":"quantitative","scale":{"domain":[1100,2500],"nice":false,"zero":false},"axis":null}}},
   {"data":{"name":"p5"},"mark":{"type":"line"},
    "encoding":{
     "x":{"field":"x","type":"quantitative","scale":{"domain":[1100,2500],"nice":false,"zero":false},"axis":{"orient":"bottom","values":[1166.67,1250,1333.33,1416.67,1500,1583.33,1666.67,1750,1833.33,1916.67,2000,2083.33,2166.67,2250,2333.33,2416.67,2500],"format":"d","labelExpr":"datum.value % 500 === 0 ? datum.label : ''","title":"Wavelength (nm)","titlePadding":10}},
     "y":{"field":"y","type":"quantitative","scale":{"domain":[-0.0702,0.0296],"nice":false,"zero":false},"axis":{"orient":"left","values":[0.025,0.0125,0,-0.0125,-0.025,-0.0375,-0.05,-0.0625],"labelExpr":"(datum.value == 0.025 || datum.value == 0 || datum.value == -0.025 || datum.value == -0.05) ? (datum.value < 0 ? '-' + format(-datum.value, '.3f') : format(datum.value, '.3f')) : ''","title":"Absorbance [-]","titleX":-47}},
     "strokeDash":{"field":"s","type":"nominal","scale":{"domain":["1h","2h","3h","6h","24h","48h"],"range":[[1,0],[6,4],[5,2,1,2],[6,2,2,2,2,2],[3,1.5],[3,4]]},"legend":{"title":null,"orient":"none","legendX":530,"legendY":83,"symbolType":"M-2.3,0H2.3","symbolSize":100}},
     "strokeWidth":{"field":"s","type":"nominal","scale":{"type":"ordinal","domain":["1h","2h","3h","6h","24h","48h"],"range":[2,1.5,1,1.5,1.5,1.5]},"legend":{"title":null,"orient":"none","legendX":530,"legendY":83,"symbolType":"M-2.3,0H2.3","symbolSize":100}},
     "color":{"field":"s","type":"nominal","scale":{"domain":["1h","2h","3h","6h","24h","48h"],"range":["#111","#222","#777","#222","#222","#222"]},"legend":{"title":null,"orient":"none","legendX":530,"legendY":83,"symbolType":"M-2.3,0H2.3","symbolSize":100}}
    }},
   {"data":{"name":"arrows"},"mark":{"type":"rule","stroke":"#333","strokeWidth":1.2,"clip":true},
    "encoding":{
     "x":{"field":"x","type":"quantitative","scale":{"domain":[1100,2500],"nice":false,"zero":false},"axis":null},
     "y":{"field":"tip","type":"quantitative","scale":{"domain":[-0.0702,0.0296],"nice":false,"zero":false},"axis":null},
     "y2":{"field":"base"}}},
   {"data":{"name":"arrows"},"mark":{"type":"point","shape":"triangle-up","filled":true,"color":"#222","size":36,"opacity":1},
    "encoding":{
     "x":{"field":"x","type":"quantitative","scale":{"domain":[1100,2500],"nice":false,"zero":false},"axis":null},
     "y":{"field":"tip","type":"quantitative","scale":{"domain":[-0.0702,0.0296],"nice":false,"zero":false},"axis":null}}},
   {"data":{"name":"alabels"},"mark":{"type":"text","fontSize":10,"color":"#222","align":"center","baseline":"middle"},
    "encoding":{
     "x":{"field":"x","type":"quantitative","scale":{"domain":[1100,2500],"nice":false,"zero":false},"axis":null},
     "y":{"field":"y","type":"quantitative","scale":{"domain":[-0.0702,0.0296],"nice":false,"zero":false},"axis":null},
     "text":{"field":"t"}}},
   {"data":{"values":[{"t":"H - Rehydration","x":1132,"y":0.0183}]},"mark":{"type":"text","align":"left","baseline":"alphabetic","fontSize":14,"color":"#222"},
    "encoding":{
     "x":{"field":"x","type":"quantitative","scale":{"domain":[1100,2500],"nice":false,"zero":false},"axis":null},
     "y":{"field":"y","type":"quantitative","scale":{"domain":[-0.0702,0.0296],"nice":false,"zero":false},"axis":{"orient":"right","values":[0.025,0.0125,0,-0.0125,-0.025,-0.0375,-0.05,-0.0625],"labels":false,"title":null}},
     "text":{"field":"t"}}}
  ],
  "resolve":{"axis":{"x":"independent","y":"independent"}}
 }
],
"resolve":{"scale":{"x":"independent","y":"independent","color":"independent","strokeDash":"independent","strokeWidth":"independent"},"legend":{"color":"independent","strokeDash":"independent","strokeWidth":"independent"},"axis":{"x":"independent","y":"independent"}}
}
